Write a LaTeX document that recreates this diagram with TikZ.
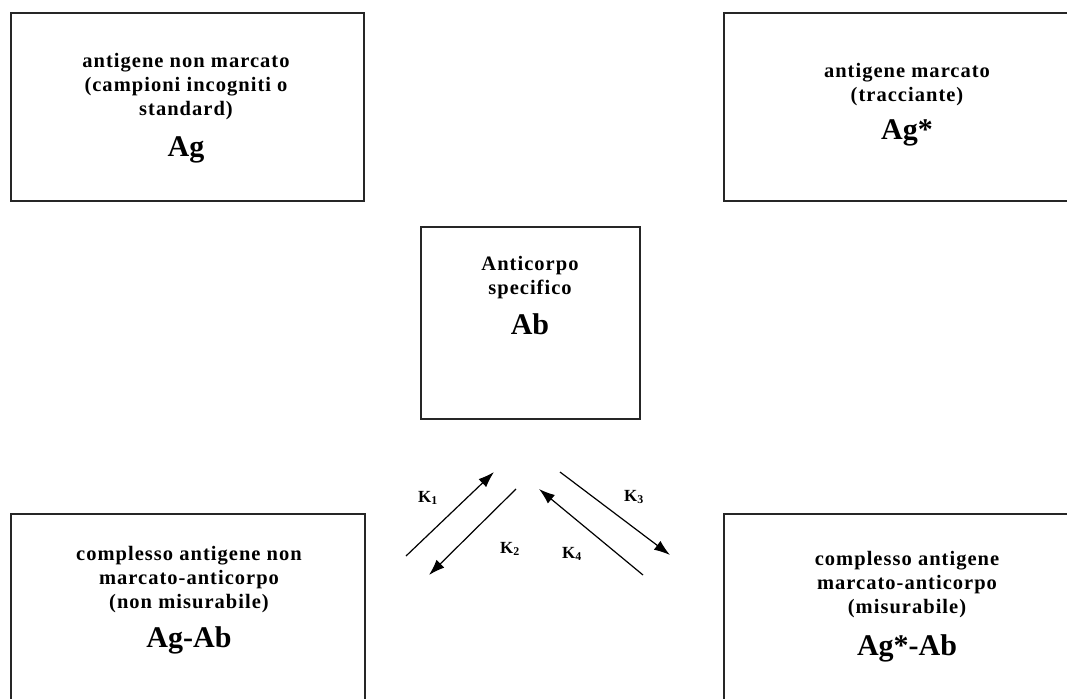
\documentclass[tikz,border=0pt]{standalone}
\usepackage{fontspec}
\setmainfont{Liberation Serif}
\newfontfamily\boxfont[LetterSpace=5]{Liberation Serif}
\usetikzlibrary{arrows.meta}
\newcommand\bigtxt[1]{{\normalfont\bfseries\fontsize{30}{30}\selectfont #1}}
\begin{document}
\begin{tikzpicture}[x=1pt,y=-1pt,>={Latex[length=16pt,width=11pt]},
  box/.style={draw,line width=1.6pt,draw=black!85,anchor=north west,inner sep=0pt},
  txt/.style={align=center,anchor=north,inner sep=0pt,font=\boxfont\bfseries\fontsize{20.5}{24}\selectfont},
  klab/.style={font=\bfseries\fontsize{17}{18}\selectfont}]
\useasboundingbox(0,0)rectangle(1067,698);
\node[box,minimum width=353pt,minimum height=188pt](ag)at(10,12){};
\node[box,minimum width=368pt,minimum height=188pt](agstar)at(723,12){};
\node[box,minimum width=219pt,minimum height=192pt](ab)at(420,226){};
\node[box,minimum width=354pt,minimum height=210pt](agab)at(10,513){};
\node[box,minimum width=368pt,minimum height=210pt](agstarab)at(723,513){};

\node[txt](agtxt)at(186,53){antigene non marcato\\(campioni incogniti o\\standard)\\[16pt]\bigtxt{Ag}};
\node[txt](agstartxt)at(907,63){antigene marcato\\(tracciante)\\[13pt]\bigtxt{Ag*}};
\node[txt](abtxt)at(530,256){Anticorpo\\specifico\\[14pt]\bigtxt{Ab}};
\node[txt](agabtxt)at(189,546){complesso antigene non\\marcato-anticorpo\\(non misurabile)\\[13pt]\bigtxt{Ag-Ab}};
\node[txt](agstarabtxt)at(907,551){complesso antigene\\marcato-anticorpo\\(misurabile)\\[16pt]\bigtxt{Ag*-Ab}};

\coordinate(ka)at(406,556);\coordinate(kb)at(494,472);
\coordinate(kc)at(516,489);\coordinate(kd)at(429,575);
\coordinate(ke)at(643,575);\coordinate(kf)at(539,489);
\coordinate(kg)at(560,472);\coordinate(kh)at(670,555);
\draw[->,line width=1.2pt](ka)--(kb);
\draw[->,line width=1.2pt](kc)--(kd);
\draw[->,line width=1.2pt](ke)--(kf);
\draw[->,line width=1.2pt](kg)--(kh);
\node[klab](k1)at(428,498){K\textsubscript{1}};
\node[klab](k2)at(510,549){K\textsubscript{2}};
\node[klab](k4)at(572,554){K\textsubscript{4}};
\node[klab](k3)at(634,497){K\textsubscript{3}};
\end{tikzpicture}
\end{document}
